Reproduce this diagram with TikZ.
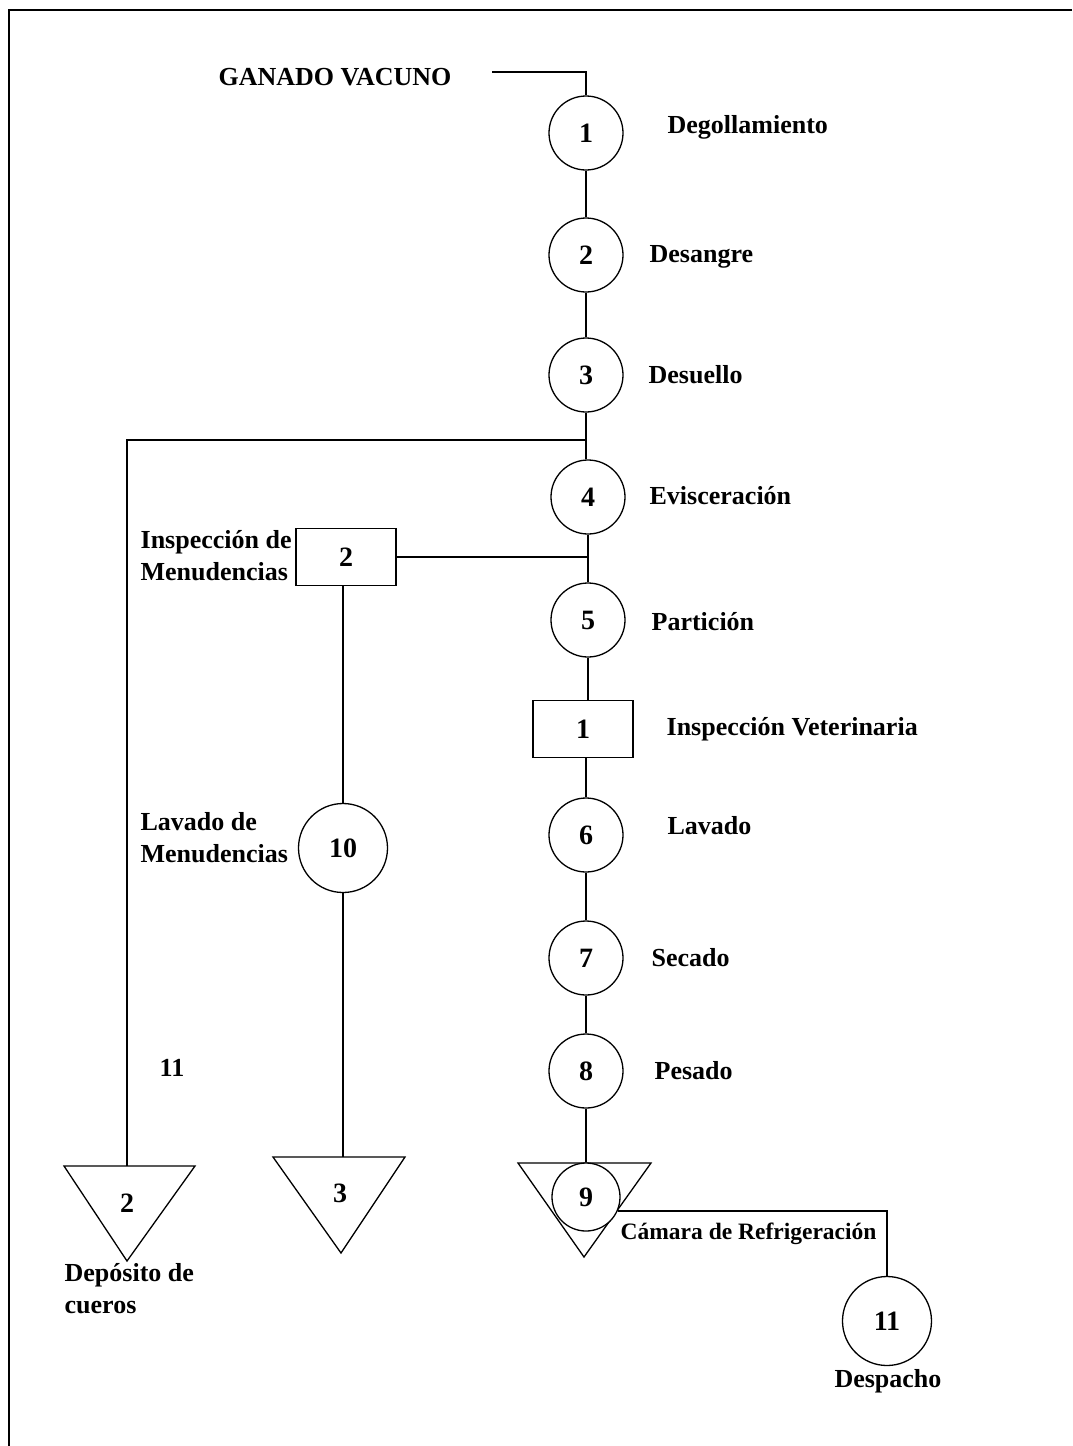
\documentclass[tikz,border=0pt]{standalone}
\usepackage{fontspec}
\setmainfont{Liberation Serif}
\begin{document}
\begin{tikzpicture}[x=1pt,y=-1pt,line width=1.3pt,
  every node/.style={font=\fontsize{26}{31}\selectfont\bfseries},
  num/.style={font=\fontsize{28}{31}\selectfont\bfseries},
  op/.style={draw,circle,minimum size=74pt,inner sep=0pt,num},
  bigop/.style={draw,circle,minimum size=89pt,inner sep=0pt,num},
  insp/.style={draw,rectangle,minimum width=100pt,minimum height=57pt,inner sep=0pt,num},
  lbl/.style={anchor=west,inner sep=0pt},
  txt/.style={align=left,inner sep=0pt,font=\fontsize{26}{32}\selectfont\bfseries},
  store/.style={line width=1.3pt,line join=miter}]
\useasboundingbox (0,0) rectangle (1072,1446);
% page frame
\draw[line width=1.8pt] (1072,10) -- (9,10) -- (9,1446);

% input
\node[anchor=west,inner sep=0pt] (ganado) at (218,77) {GANADO VACUNO};
\coordinate (gstart) at (492,72);

% main line of operations
\node[op] (c1) at (586,133) {1};
\node[op] (c2) at (586,255) {2};
\node[op] (c3) at (586,375) {3};
\node[op] (c4) at (588,497) {4};
\node[op] (c5) at (588,620) {5};
\node[insp] (i1) at (583,729) {1};
\node[op] (c6) at (586,835) {6};
\node[op] (c7) at (586,958) {7};
\node[op] (c8) at (586,1071) {8};

\node[lbl] (l1) at (667,127) {Degollamiento};
\node[lbl] (l2) at (649,257) {Desangre};
\node[lbl] (l3) at (648,375) {Desuello};
\node[lbl] (l4) at (649,496) {Evisceración};
\node[lbl] (l5) at (651,622) {Partición};
\node[lbl] (li1) at (666,729) {Inspección Veterinaria};
\node[lbl] (l6) at (667,826) {Lavado};
\node[lbl] (l7) at (651,958) {Secado};
\node[lbl] (l8) at (654,1071) {Pesado};

% storage 9 with cold chamber
\draw[store] (518,1163) -- (651,1163) -- (584,1257) -- cycle;
\node[draw,circle,minimum size=68pt,inner sep=0pt,fill=white,num] (c9) at (586,1197) {9};
\node[lbl] (l9) at (620,1234) {\fontsize{23.5}{27}\selectfont Cámara de Refrigeración};

\node[bigop] (c11) at (887,1321) {11};
\node[inner sep=0pt] (l11) at (888,1381) {Despacho};

% offal branch
\node[insp] (i2) at (346,557) {2};
\node[txt,anchor=north west] (li2) at (140,530) {Inspección de\\Menudencias};
\node[bigop] (c10) at (343,848) {10};
\node[txt,anchor=north west] (l10) at (140,812) {Lavado de\\Menudencias};

\draw[store] (273,1157) -- (405,1157) -- (341,1253) -- cycle;
\coordinate (t3top) at (341,1157);
\node[inner sep=0pt,num] (s3) at (340,1193) {3};

% hides branch
\coordinate (t2top) at (127,1166);
\draw[store] (64,1166) -- (195,1166) -- (127,1261) -- cycle;
\node[inner sep=0pt,num] (s2) at (127,1203) {2};
\node[txt,anchor=north west] (l2d) at (64,1263) {Depósito de\\cueros};

\node[inner sep=0pt] (n11) at (172,1068) {11};

% connectors
\draw (gstart) -| (c1.north);
\draw (c1) -- (c2);
\draw (c2) -- (c3);
\draw (c3.south) -- (c3.south |- c4.north);
\coordinate (j1) at (586,440);
\coordinate (j2) at (588,557);
\draw (j1) -- (j1 -| t2top) -- (t2top);
\draw (c4) -- (c5);
\draw (i2.east) -- (j2);
\draw (c5.south) -- (c5.south |- i1.north);
\draw (i1.south -| c6) -- (c6.north);
\draw (c6) -- (c7);
\draw (c7) -- (c8);
\draw (c8.south) -- (c9.north);
\draw (c9.-24) -| (c11.north);
\draw (i2.south -| c10) -- (c10.north);
\draw (c10.south) -- (c10.south |- t3top);
\end{tikzpicture}
\end{document}
